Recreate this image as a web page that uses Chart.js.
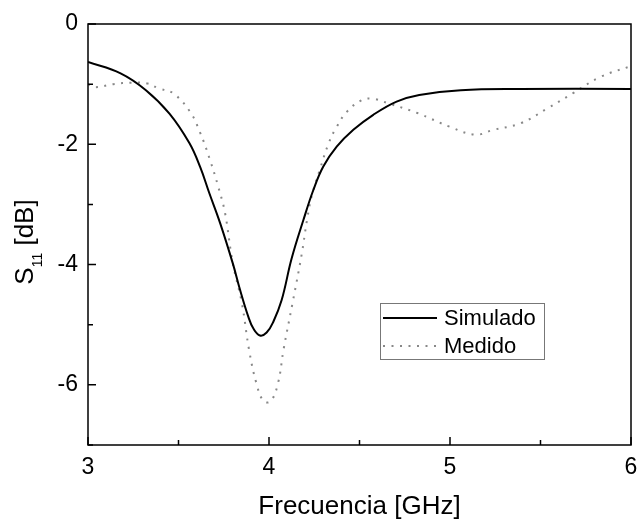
<!DOCTYPE html>
<html>
<head>
<meta charset="utf-8">
<script src="https://cdn.jsdelivr.net/npm/chart.js@4"></script>
<style>
  html, body { margin: 0; padding: 0; background: #fff; }
  #wrap { width: 639px; height: 523px; }
</style>
</head>
<body>
<div id="wrap"><canvas id="chart"></canvas></div>
<script>
var FONT = "Arial, 'Liberation Sans', sans-serif";

// Simulado (solid)
var simFreq = [3, 3.18, 3.32, 3.45, 3.56, 3.62, 3.67, 3.73, 3.80, 3.84, 3.886, 3.913, 3.95, 3.987, 4.024, 4.07, 4.125, 4.19, 4.245, 4.30, 4.374, 4.466, 4.576, 4.705, 4.83, 5.06, 5.39, 6];
var simS11  = [-0.63, -0.82, -1.10, -1.49, -1.98, -2.38, -2.81, -3.31, -3.98, -4.42, -4.87, -5.06, -5.18, -5.13, -4.95, -4.59, -3.90, -3.26, -2.76, -2.37, -2.04, -1.76, -1.51, -1.29, -1.18, -1.10, -1.08, -1.08];

// Medido (dotted)
var measFreq = [3, 3.04, 3.14, 3.24, 3.33, 3.39, 3.47, 3.564, 3.62, 3.674, 3.72, 3.757, 3.80, 3.85, 3.89, 3.93, 3.97, 4.01, 4.05, 4.08, 4.13, 4.18, 4.21, 4.235, 4.28, 4.33, 4.374, 4.43, 4.51, 4.567, 4.66, 4.82, 5.0, 5.14, 5.24, 5.39, 5.54, 5.68, 5.83, 6];
var measS11  = [-1.0, -1.05, -1.0, -0.975, -0.99, -1.07, -1.15, -1.46, -1.81, -2.26, -2.71, -3.14, -3.98, -4.64, -5.42, -5.97, -6.27, -6.27, -5.97, -5.42, -4.64, -3.84, -3.26, -2.87, -2.43, -1.98, -1.71, -1.46, -1.27, -1.24, -1.32, -1.48, -1.71, -1.84, -1.76, -1.65, -1.40, -1.15, -0.88, -0.70];

var xTicks = [3, 4, 5, 6];
var yTicks = [0, -2, -4, -6];

function pts(xs, ys) {
    return xs.map(function (x, i) { return { x: x, y: ys[i] }; });
}

// frame, inward ticks, y title with subscript, legend box
var decor = {
    id: 'decor',
    afterDatasetsDraw: function (chart) {
        var ctx = chart.ctx;
        var a = chart.chartArea;
        var xs = chart.scales.x, ys = chart.scales.y;
        ctx.save();
        ctx.strokeStyle = '#000';
        ctx.lineWidth = 1.5;
        ctx.strokeRect(a.left, a.top, a.right - a.left, a.bottom - a.top);

        ctx.beginPath();
        for (var v = 3; v <= 6.001; v += 0.5) {
            var px = xs.getPixelForValue(v);
            var len = Math.abs(v - Math.round(v)) < 1e-6 ? 8 : 5;
            ctx.moveTo(px, a.bottom);
            ctx.lineTo(px, a.bottom - len);
        }
        for (var w = 0; w >= -7; w -= 1) {
            var py = ys.getPixelForValue(w);
            var l2 = (w % 2 === 0) ? 8 : 5;
            ctx.moveTo(a.left, py);
            ctx.lineTo(a.left + l2, py);
        }
        ctx.stroke();

        // y axis title: S11 [dB]
        ctx.translate(33, 242);
        ctx.rotate(-Math.PI / 2);
        ctx.fillStyle = '#000';
        ctx.textBaseline = 'alphabetic';
        ctx.font = '26px ' + FONT;
        var w1 = ctx.measureText('S').width;
        ctx.font = '14px ' + FONT;
        var w2 = ctx.measureText('11').width;
        ctx.font = '26px ' + FONT;
        var w3 = ctx.measureText(' [dB]').width;
        var x0 = -(w1 + w2 + w3) / 2;
        ctx.fillText('S', x0, 0);
        ctx.font = '14px ' + FONT;
        ctx.fillText('11', x0 + w1, 9);
        ctx.font = '26px ' + FONT;
        ctx.fillText(' [dB]', x0 + w1 + w2, 0);
        ctx.restore();

        // legend
        ctx.save();
        var bx = 380, by = 303, bw = 164, bh = 56;
        ctx.fillStyle = '#fff';
        ctx.fillRect(bx, by, bw, bh);
        ctx.strokeStyle = '#777';
        ctx.lineWidth = 1;
        ctx.strokeRect(bx + 0.5, by + 0.5, bw, bh);
        var ds = chart.data.datasets;
        var rows = [318, 346];
        ds.forEach(function (d, i) {
            ctx.beginPath();
            ctx.strokeStyle = d.borderColor;
            ctx.lineWidth = d.borderWidth;
            ctx.setLineDash(d.borderDash || []);
            ctx.moveTo(383, rows[i]);
            ctx.lineTo(437, rows[i]);
            ctx.stroke();
            ctx.setLineDash([]);
            ctx.fillStyle = '#000';
            ctx.font = '22px ' + FONT;
            ctx.textBaseline = 'middle';
            ctx.fillText(d.label, 444, rows[i] + 1);
        });
        ctx.restore();
    }
};

new Chart(document.getElementById('chart'), {
    type: 'line',
    data: {
        datasets: [{
            label: 'Simulado',
            data: pts(simFreq, simS11),
            borderColor: '#000',
            borderWidth: 2,
            pointRadius: 0,
            tension: 0.4,
            fill: false
        }, {
            label: 'Medido',
            data: pts(measFreq, measS11),
            borderColor: '#888',
            borderWidth: 2,
            borderDash: [2, 6.5],
            pointRadius: 0,
            tension: 0.4,
            fill: false
        }]
    },
    options: {
        responsive: true,
        maintainAspectRatio: false,
        animation: false,
        layout: { padding: { top: 24, right: 8, left: 0, bottom: 0 } },
        plugins: {
            legend: { display: false },
            tooltip: { enabled: false }
        },
        scales: {
            x: {
                type: 'linear',
                min: 3,
                max: 6,
                afterFit: function (s) { s.height = 78; s.paddingLeft = 0; s.paddingRight = 0; },
                afterBuildTicks: function (s) { s.ticks = xTicks.map(function (v) { return { value: v }; }); },
                grid: { display: false, drawTicks: false },
                border: { display: false },
                ticks: {
                    color: '#000',
                    font: { family: FONT, size: 23 },
                    padding: 9,
                    maxRotation: 0
                },
                title: {
                    display: true,
                    text: 'Frecuencia [GHz]',
                    color: '#000',
                    font: { family: FONT, size: 26 },
                    padding: { top: 0, bottom: 1 }
                }
            },
            y: {
                type: 'linear',
                min: -7,
                max: 0,
                afterFit: function (s) { s.width = 88; s.paddingTop = 0; s.paddingBottom = 0; },
                afterBuildTicks: function (s) { s.ticks = yTicks.map(function (v) { return { value: v }; }); },
                grid: { display: false, drawTicks: false },
                border: { display: false },
                ticks: {
                    color: '#000',
                    font: { family: FONT, size: 23 },
                    padding: 10
                }
            }
        }
    },
    plugins: [decor]
});
</script>
</body>
</html>
